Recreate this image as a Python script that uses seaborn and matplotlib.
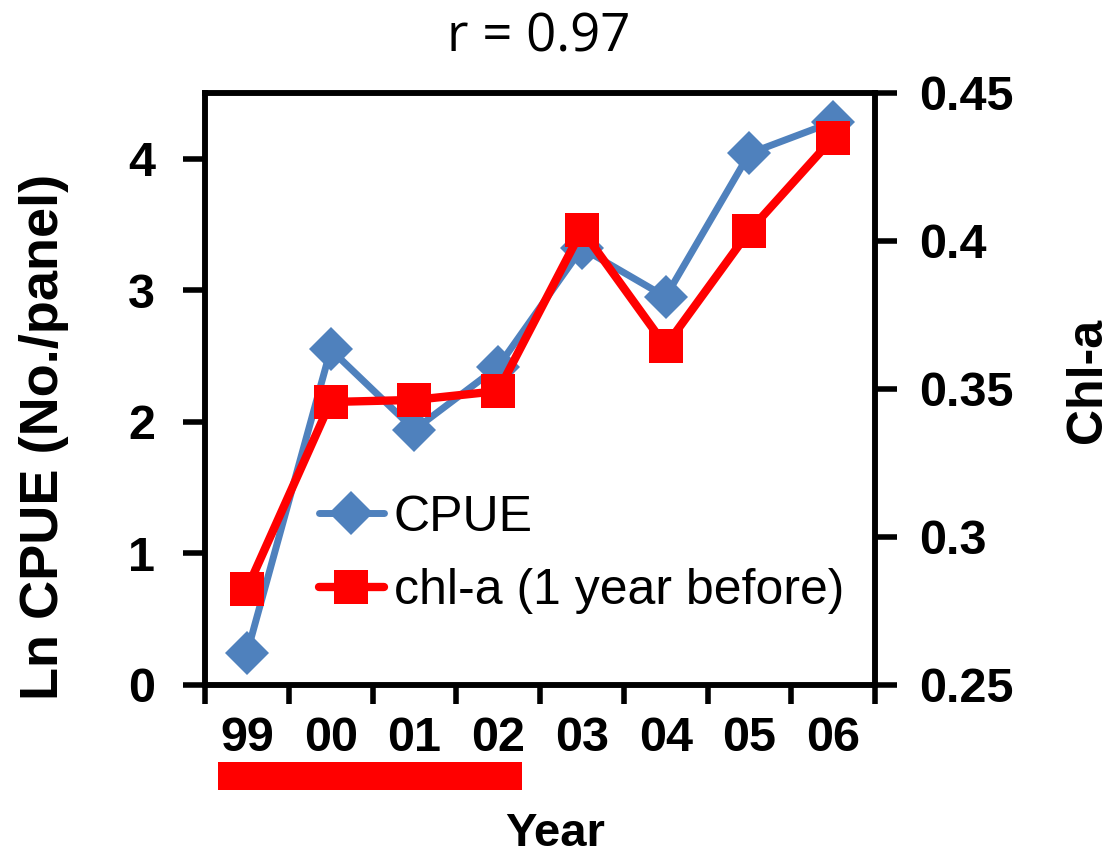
import matplotlib
matplotlib.use("Agg")
import matplotlib.pyplot as plt
import matplotlib.transforms as mtransforms
from matplotlib.patches import Rectangle
from matplotlib.lines import Line2D
import seaborn as sns
import pandas as pd
import numpy as np

years = ["99", "00", "01", "02", "03", "04", "05", "06"]
cpue = [0.24, 2.55, 1.94, 2.42, 3.32, 2.95, 4.04, 4.28]
chla = [0.2824, 0.3456, 0.3463, 0.3493, 0.4037, 0.3645, 0.4034, 0.4348]
left_ticks = [0, 1, 2, 3, 4]
right_ticks = [0.25, 0.3, 0.35, 0.4, 0.45]
right_tick_labels = ["0.25", "0.3", "0.35", "0.4", "0.45"]

sns.set_theme(style="white")
plt.rcParams["font.family"] = ["Liberation Sans", "DejaVu Sans"]
plt.rcParams["text.color"] = "black"
plt.rcParams["xtick.color"] = "black"
plt.rcParams["ytick.color"] = "black"
plt.rcParams["axes.labelcolor"] = "black"

BLUE = "#4F81BD"
RED = "#FF0000"

df = pd.DataFrame({"pos": np.arange(len(years)), "year": years, "cpue": cpue, "chla": chla})

fig = plt.figure(figsize=(11.10, 8.56), dpi=100)
ax = fig.add_axes([0.1847, 0.1998, 0.6036, 0.6916])
ax2 = ax.twinx()

sns.lineplot(data=df, x="pos", y="cpue", ax=ax, color=BLUE, lw=5, marker="D",
             markersize=22, markeredgewidth=0, zorder=3)
sns.lineplot(data=df, x="pos", y="chla", ax=ax2, color=RED, lw=6, marker="s",
             markersize=24, markeredgewidth=0, zorder=4)

ax.set_xlim(-0.5, len(years) - 0.5)
ax.set_ylim(0, 4.5)
ax2.set_ylim(0.25, 0.45)

# x ticks: boundaries as marks, labels centered
ax.set_xticks(np.arange(-0.5, len(years), 1.0))
ax.set_xticklabels([])
ax.set_xticks(np.arange(len(years)), minor=True)
ax.set_xticklabels(years, minor=True, fontsize=35, fontweight="bold")
ax.tick_params(axis="x", which="major", direction="out", length=14, width=4, color="black", bottom=True)
ax.tick_params(axis="x", which="minor", length=0, pad=22)

ax.set_yticks(left_ticks)
ax.set_yticklabels([str(t) for t in left_ticks], fontsize=35, fontweight="bold")
ax.tick_params(axis="y", direction="out", length=16, width=4, color="black", left=True, pad=20)

ax2.set_yticks(right_ticks)
ax2.set_yticklabels(right_tick_labels, fontsize=35, fontweight="bold")
ax2.tick_params(axis="y", direction="out", length=16, width=4, color="black", right=True, pad=16)

for a in (ax, ax2):
    for s in a.spines.values():
        s.set_linewidth(4)
        s.set_color("black")

ax.set_xlabel("Year", fontsize=34, fontweight="bold")
ax.xaxis.set_label_coords(0.522, -0.215)
ax.set_ylabel("Ln CPUE (No./panel)", fontsize=39, fontweight="bold")
ax.yaxis.set_label_coords(-0.203, 0.419)
ax2.set_ylabel("Chl-a", fontsize=36, fontweight="bold")
ax2.yaxis.set_label_coords(1.284, 0.515)

fig.text(0.485, 0.956, "r = 0.97", fontsize=38, ha="center", va="center",
         family=["Open Sans", "DejaVu Sans"])

# red bar under 99-02
trans = mtransforms.blended_transform_factory(ax.transData, ax.transAxes)
ax.add_patch(Rectangle((-0.35, -0.177), 3.63, 0.047, transform=trans, color=RED,
                       clip_on=False, lw=0))

handles = [Line2D([], [], color=BLUE, lw=5, marker="D", markersize=22, markeredgewidth=0),
           Line2D([], [], color=RED, lw=6, marker="s", markersize=24, markeredgewidth=0)]
leg = ax.legend(handles, ["CPUE", "chl-a (1 year before)"], loc="upper left",
                bbox_to_anchor=(0.17, 0.321), frameon=False, fontsize=36,
                handlelength=1.3, handletextpad=0.2, labelspacing=0.55,
                borderaxespad=0, borderpad=0)
leg.set_zorder(10)

fig.savefig("out.png", dpi=100, facecolor="white")
